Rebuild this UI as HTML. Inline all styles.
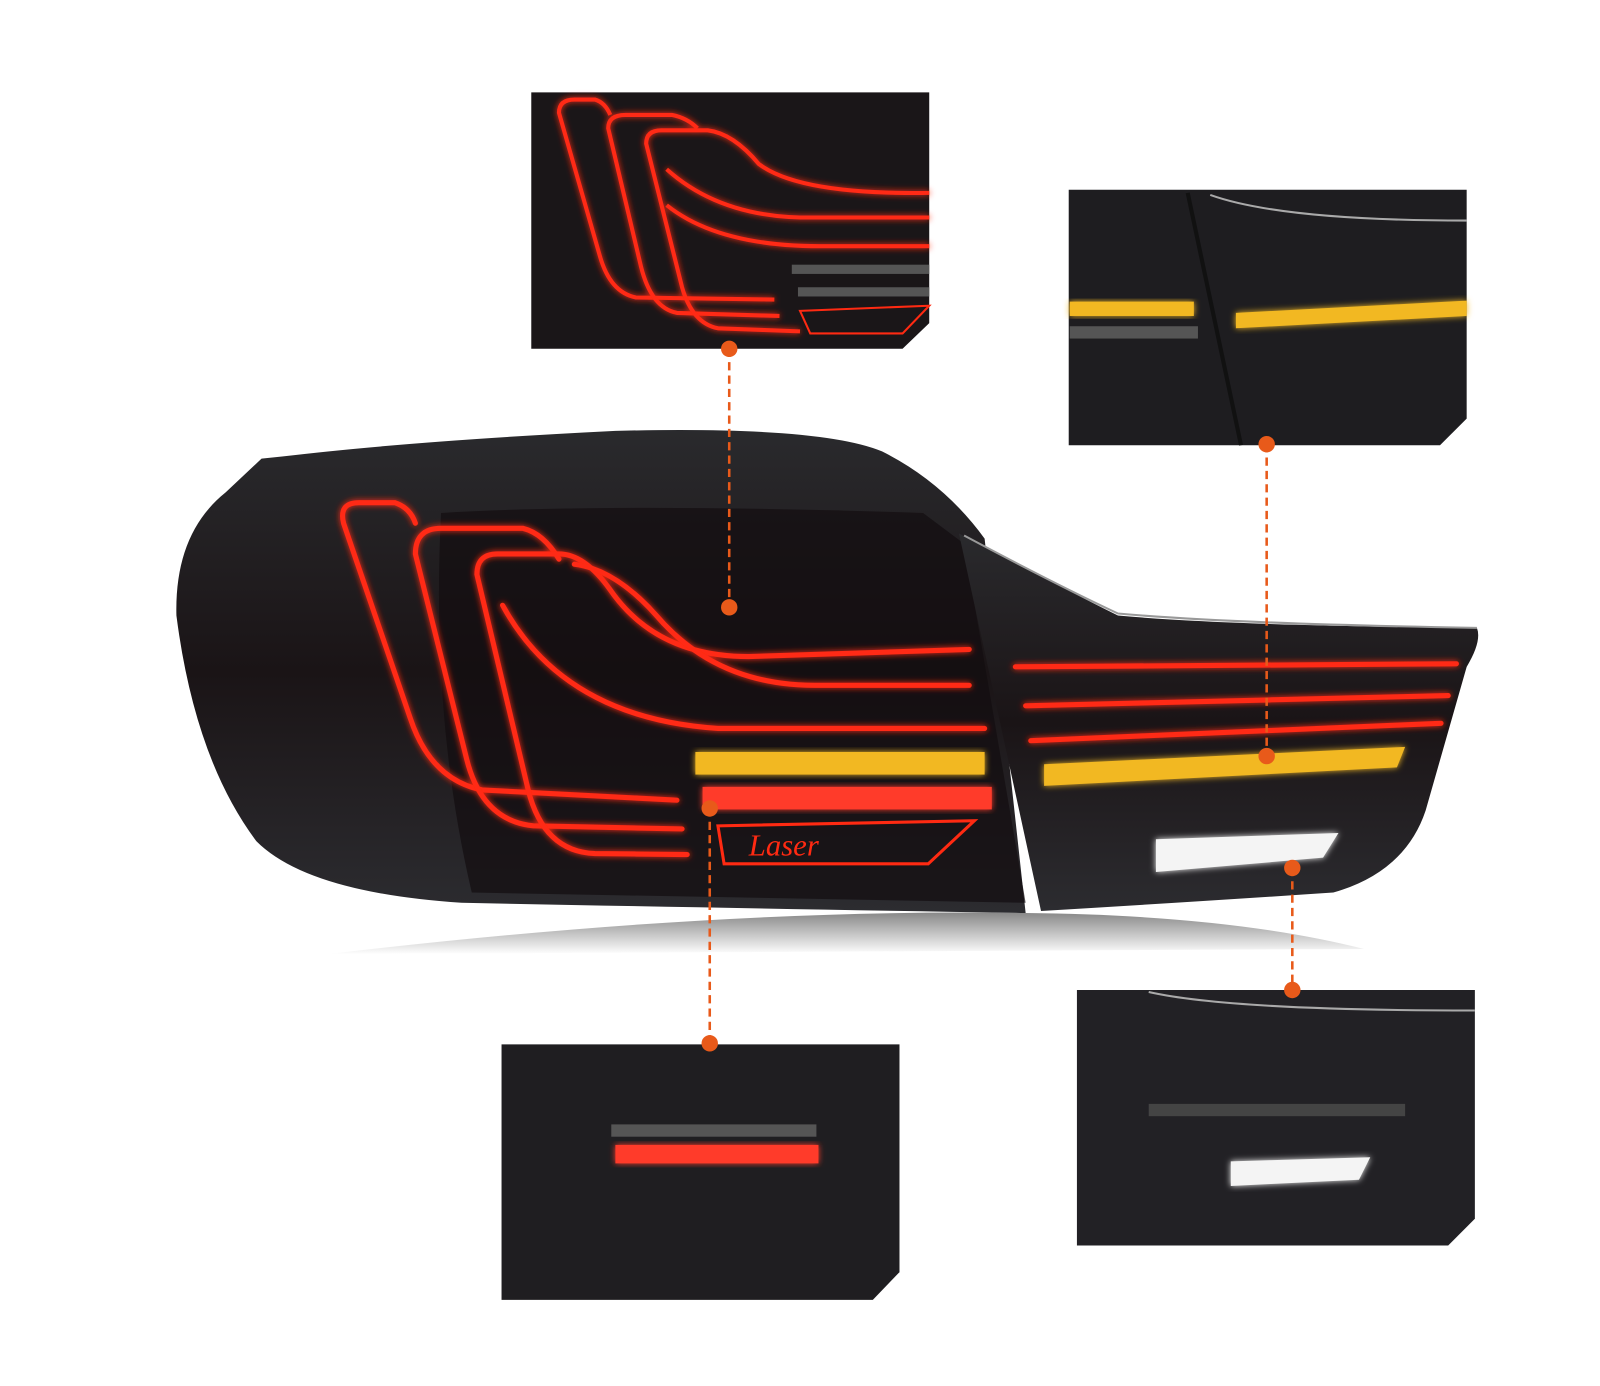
<!DOCTYPE html>
<html><head><meta charset="utf-8"><style>html,body{margin:0;padding:0;background:#fff;}svg{display:block}</style></head>
<body>
<svg width="1600" height="1386" viewBox="0 0 1560 1351" preserveAspectRatio="none" xmlns="http://www.w3.org/2000/svg">
<defs>
<filter id="g" x="-20%" y="-20%" width="140%" height="140%"><feGaussianBlur stdDeviation="3" result="b"/><feMerge><feMergeNode in="b"/><feMergeNode in="SourceGraphic"/></feMerge></filter>
<linearGradient id="body" x1="0" y1="0" x2="0" y2="1"><stop offset="0" stop-color="#2a2a2d"/><stop offset="0.5" stop-color="#1a1416"/><stop offset="1" stop-color="#2c2c30"/></linearGradient>
<linearGradient id="ref" x1="0" y1="0" x2="0" y2="1"><stop offset="0" stop-color="#555"/><stop offset="1" stop-color="#fff"/></linearGradient>
</defs>
<rect width="1560" height="1351" fill="#fff"/>
<!-- reflection -->
<path d="M320 930 Q700 885 1000 890 Q1200 892 1330 925 L320 930Z" fill="url(#ref)" opacity="0.7"/>
<!-- main body left -->
<path d="M255 447 L275 445 Q400 430 600 420 Q800 415 860 440 Q920 470 960 525 L1000 890 Q700 885 450 880 Q300 870 250 820 Q190 740 172 600 Q170 520 220 480 Z" fill="url(#body)"/>
<path d="M430 500 Q600 490 900 500 L940 530 L1000 880 L460 870 Q420 700 430 500Z" fill="#120d0f" opacity="0.7"/>
<!-- right body -->
<path d="M935 520 Q1030 570 1090 600 Q1200 610 1440 612 Q1445 625 1430 650 L1390 790 Q1370 850 1300 870 Q1150 880 1015 888 Z" fill="url(#body)"/>
<path d="M940 522 Q1030 570 1090 598 Q1200 608 1440 612" fill="none" stroke="#999" stroke-width="2"/>
<!-- red light arcs -->
<g fill="none" stroke="#ff2a12" stroke-width="5" filter="url(#g)" stroke-linecap="round">
<path d="M660 780 L470 770 Q420 760 400 700 L335 510 Q330 490 350 490 L385 490 Q400 495 405 510"/>
<path d="M665 808 L520 805 Q470 800 455 740 L405 540 Q405 515 430 515 L510 515 Q530 520 545 545"/>
<path d="M670 833 L580 832 Q530 830 515 770 L465 560 Q465 540 485 540 L545 540 Q570 540 595 575 Q640 640 730 640 L945 633"/>
<path d="M560 550 Q600 555 640 600 Q700 670 800 668 L945 668"/>
<path d="M490 590 Q550 700 700 710 L960 710"/>
<path d="M990 650 L1420 647"/>
<path d="M1000 688 L1412 678"/>
<path d="M1005 722 L1405 705"/>
</g>
<!-- amber -->
<rect x="678" y="733" width="282" height="22" fill="#f2b824" filter="url(#g)"/>
<path d="M1018 745 L1370 728 L1362 748 L1018 766Z" fill="#f2b824" filter="url(#g)"/>
<!-- red brake bar -->
<rect x="685" y="767" width="282" height="22" fill="#ff3a2a" filter="url(#g)"/>
<path d="M700 805 L950 800 L905 842 L706 842 Z" fill="none" stroke="#ff2a12" stroke-width="3"/>
<text x="730" y="834" font-family="Liberation Serif, serif" font-style="italic" font-size="30" fill="#ff2a12">Laser</text>
<!-- white reverse -->
<path d="M1127 818 L1305 812 L1290 836 L1127 850 Z" fill="#f4f4f4" filter="url(#g)"/>
<!-- insets -->
<g>
<path d="M518 90 L906 90 L906 315 L880 340 L518 340 Z" fill="#1a1618"/>
<g fill="none" stroke="#ff2a12" stroke-width="4" filter="url(#g)">
<path d="M755 292 L620 290 Q595 285 585 250 L545 110 Q545 97 560 97 L580 97 Q590 100 595 112"/>
<path d="M760 308 L660 305 Q635 300 625 260 L593 125 Q593 112 610 112 L655 112 Q670 115 680 125"/>
<path d="M780 323 L700 320 Q675 315 665 280 L630 140 Q630 127 645 127 L690 127 Q715 130 740 160 Q780 190 906 188"/>
<path d="M650 165 Q700 210 780 212 L906 212"/>
<path d="M650 200 Q700 240 800 240 L906 240"/>
</g>
<rect x="772" y="258" width="134" height="9" fill="#555"/><rect x="778" y="280" width="128" height="9" fill="#555"/>
<path d="M780 303 L906 298 L880 325 L790 325 Z" fill="none" stroke="#ff2a12" stroke-width="2"/>
</g>
<g>
<path d="M1042 185 L1430 185 L1430 408 L1404 434 L1042 434 Z" fill="#1e1d20"/>
<path d="M1180 190 Q1250 215 1430 215" stroke="#aaa" stroke-width="2" fill="none"/>
<path d="M1158 188 L1210 434" stroke="#111" stroke-width="4"/>
<rect x="1043" y="294" width="121" height="14" fill="#f2b824" filter="url(#g)"/>
<path d="M1205 305 L1430 293 L1430 308 L1205 320Z" fill="#f2b824" filter="url(#g)"/>
<rect x="1043" y="318" width="125" height="12" fill="#555"/>
</g>
<g>
<path d="M489 1018 L877 1018 L877 1240 L851 1267 L489 1267 Z" fill="#1f1e21"/>
<rect x="596" y="1096" width="200" height="12" fill="#555"/>
<rect x="600" y="1116" width="198" height="18" fill="#ff3a2a" filter="url(#g)"/>
</g>
<g>
<path d="M1050 965 L1438 965 L1438 1188 L1412 1214 L1050 1214 Z" fill="#222125"/>
<path d="M1120 967 Q1200 985 1438 985" stroke="#aaa" stroke-width="2" fill="none"/>
<rect x="1120" y="1076" width="250" height="12" fill="#444"/>
<path d="M1200 1132 L1336 1128 L1325 1150 L1200 1156Z" fill="#f4f4f4" filter="url(#g)"/>
</g>
<!-- connectors -->
<g stroke="#e85a1a" stroke-width="2.5" stroke-dasharray="8 5">
<line x1="711" y1="340" x2="711" y2="592"/>
<line x1="1235" y1="433" x2="1235" y2="737"/>
<line x1="692" y1="788" x2="692" y2="1017"/>
<line x1="1260" y1="846" x2="1260" y2="965"/>
</g>
<g fill="#e85a1a">
<circle cx="711" cy="340" r="8"/><circle cx="711" cy="592" r="8"/>
<circle cx="1235" cy="433" r="8"/><circle cx="1235" cy="737" r="8"/>
<circle cx="692" cy="788" r="8"/><circle cx="692" cy="1017" r="8"/>
<circle cx="1260" cy="846" r="8"/><circle cx="1260" cy="965" r="8"/>
</g>
</svg>
</body></html>
